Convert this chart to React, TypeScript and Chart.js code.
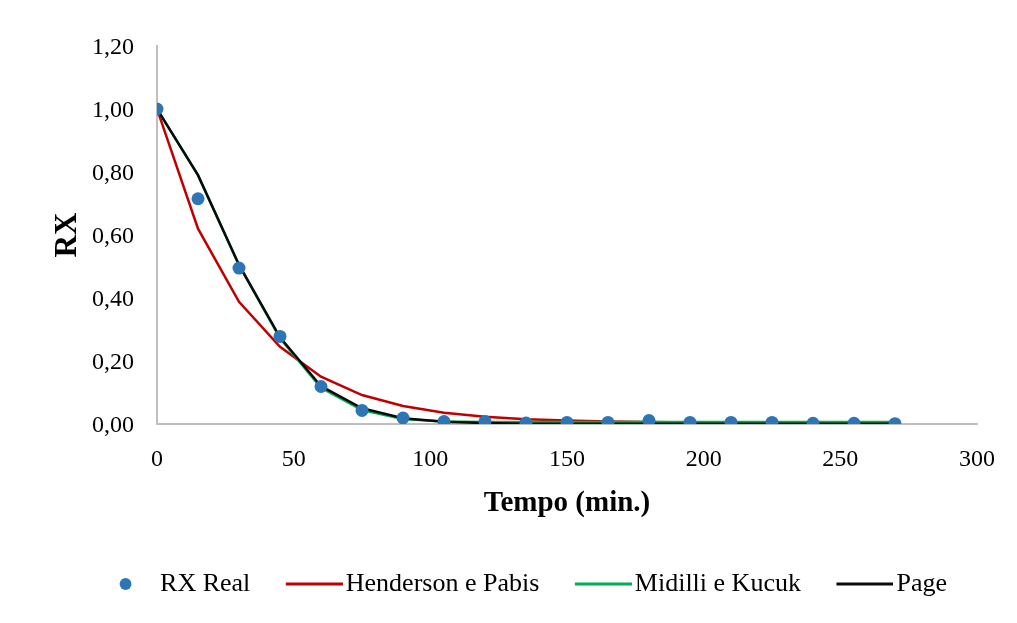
import React, { useEffect, useRef } from "react";
import { Chart, registerables } from "chart.js";

Chart.register(...registerables);

const timeMin = [0, 15, 30, 45, 60, 75, 90, 105, 120, 135, 150, 165, 180, 195, 210, 225, 240, 255, 270];
const rxReal = [1.0, 0.715, 0.495, 0.278, 0.119, 0.043, 0.019, 0.008, 0.008, 0.003, 0.005, 0.005, 0.011, 0.005, 0.005, 0.005, 0.002, 0.002, 0.001];
const hendersonPabis = [1.0, 0.62, 0.388, 0.245, 0.15, 0.092, 0.057, 0.036, 0.023, 0.015, 0.011, 0.008, 0.006, 0.005, 0.004, 0.004, 0.003, 0.003, 0.003];
const midilliKucuk = [1.0, 0.79, 0.505, 0.272, 0.115, 0.044, 0.016, 0.008, 0.006, 0.006, 0.006, 0.006, 0.006, 0.006, 0.006, 0.006, 0.006, 0.006, 0.006];
const page = [1.0, 0.79, 0.505, 0.275, 0.12, 0.05, 0.018, 0.007, 0.003, 0.001, 0.001, 0.001, 0.001, 0.001, 0.001, 0.001, 0.001, 0.001, 0.001];

const seriesNames = ["RX Real", "Henderson e Pabis", "Midilli e Kucuk", "Page"];
const seriesColors = ["#2E75B6", "#C00000", "#00B050", "#0A0A0A"];
const seriesOrder = [0, 3, 2, 1];
const xTicks = [0, 50, 100, 150, 200, 250, 300];

const FONT = "'Liberation Serif', 'Times New Roman', serif";

function toPoints(ys: number[]) {
  return ys.map((y, i) => ({ x: timeMin[i], y }));
}

function makeLineImage(color: string) {
  const c = document.createElement("canvas");
  c.width = 66;
  c.height = 4;
  const g = c.getContext("2d")!;
  g.fillStyle = color;
  g.fillRect(9, 0.5, 57, 3);
  return c;
}

function makeDotImage(color: string) {
  const c = document.createElement("canvas");
  c.width = 20;
  c.height = 14;
  const g = c.getContext("2d")!;
  g.fillStyle = color;
  g.beginPath();
  g.arc(11.5, 7, 5.9, 0, Math.PI * 2);
  g.fill();
  return c;
}

const legendShift = {
  id: "legendShift",
  afterLayout(chart: any) {
    if (chart.legend) {
      chart.legend.left += 11;
      chart.legend.right += 11;
    }
  },
};

export default function App() {
  const ref = useRef<HTMLCanvasElement | null>(null);

  useEffect(() => {
    if (!ref.current) return;
    const legendImages = [
      makeDotImage(seriesColors[0]),
      makeLineImage(seriesColors[1]),
      makeLineImage(seriesColors[2]),
      makeLineImage(seriesColors[3]),
    ];
    const lineSeries = [hendersonPabis, midilliKucuk, page];
    const datasets: any[] = [
      {
        label: seriesNames[0],
        data: toPoints(rxReal),
        showLine: false,
        order: seriesOrder[0],
        pointRadius: 6.5,
        pointHoverRadius: 6.5,
        pointBackgroundColor: seriesColors[0],
        pointBorderColor: seriesColors[0],
        pointBorderWidth: 0,
        borderColor: seriesColors[0],
        backgroundColor: seriesColors[0],
      },
      ...lineSeries.map((ys, k) => ({
        label: seriesNames[k + 1],
        data: toPoints(ys),
        order: seriesOrder[k + 1],
        borderColor: seriesColors[k + 1],
        backgroundColor: seriesColors[k + 1],
        borderWidth: 2.5,
        pointRadius: 0,
        tension: 0,
      })),
    ];
    const chart = new Chart(ref.current, {
      type: "line",
      data: { datasets },
      plugins: [legendShift],
      options: {
        animation: false,
        responsive: true,
        maintainAspectRatio: false,
        layout: { padding: { left: 41, right: 32, top: 38, bottom: 8 } },
        plugins: {
          tooltip: { enabled: false },
          legend: {
            position: "bottom",
            labels: {
              usePointStyle: true,
              pointStyleWidth: 46,
              boxHeight: 14,
              padding: 36.5,
              color: "#000",
              font: { family: FONT, size: 26 },
              generateLabels: (ch: any) =>
                ch.data.datasets.map((ds: any, i: number) => ({
                  text: ds.label,
                  pointStyle: legendImages[i],
                  fillStyle: seriesColors[i],
                  strokeStyle: seriesColors[i],
                  lineWidth: 0,
                  hidden: false,
                  datasetIndex: i,
                  fontColor: "#000",
                })),
            },
          },
        },
        scales: {
          x: {
            type: "linear",
            min: 0,
            max: 300,
            afterBuildTicks: (s: any) => {
              s.ticks = xTicks.map((v) => ({ value: v }));
            },
            afterFit: (s: any) => {
              s.height = 110.5;
            },
            grid: { display: false, drawTicks: false },
            border: { display: true, color: "#BFBFBF", width: 2 },
            ticks: {
              color: "#000",
              font: { family: FONT, size: 24, lineHeight: 2.3 },
              padding: 8,
              maxRotation: 0,
            },
            title: {
              display: true,
              text: "Tempo (min.)",
              color: "#000",
              font: { family: FONT, size: 29, weight: "bold" },
              padding: { top: 0, bottom: 14 },
            },
          },
          y: {
            type: "linear",
            min: 0,
            max: 1.2,
            afterFit: (s: any) => {
              s.width = 108;
            },
            grid: { display: false, drawTicks: false },
            border: { display: true, color: "#BFBFBF", width: 2 },
            ticks: {
              stepSize: 0.2,
              color: "#000",
              font: { family: FONT, size: 24 },
              padding: 23,
              labelOffset: 2,
              callback: (v: any) => Number(v).toFixed(2).replace(".", ","),
            },
            title: {
              display: true,
              text: "RX",
              color: "#000",
              font: { family: FONT, size: 31, weight: "bold" },
              padding: { top: 0, bottom: 0 },
            },
          },
        },
      },
    });
    return () => chart.destroy();
  }, []);

  return (
    <div style={{ width: 1001, height: 607, position: "relative" }}>
      <canvas ref={ref} />
    </div>
  );
}
